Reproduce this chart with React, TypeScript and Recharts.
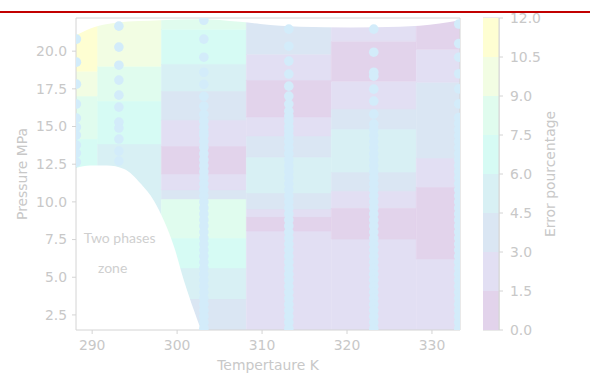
import React from 'react'
import {
    Area,
    Bar,
    BarChart,
    ComposedChart,
    Label,
    ReferenceArea,
    ReferenceDot,
    ReferenceLine,
    Scatter,
    XAxis,
    YAxis,
} from 'recharts'

// measured temperatures (K) and the cell edges between them
const temps = [288.15, 293.15, 303.15, 313.15, 323.15, 333.15]
const tempEdges = [288.1, 290.65, 298.15, 308.15, 318.15, 328.15, 333.3]

const xTicks = [290, 300, 310, 320, 330]
const yTicks = [2.5, 5, 7.5, 10, 12.5, 15, 17.5, 20]

// error bands of the colour scale (%)
const levels = [0, 1.5, 3, 4.5, 6, 7.5, 9, 10.5, 12]
const levelColors = ['#e2d3eb', '#e2dff3', '#dae6f3', '#d8f0f4', '#d6fbf4', '#e0fcee', '#f2fde3', '#fefed2']

// per column: pressure breaks (bottom to top) and the band of each cell
const cellBounds = [
    [1.5, 14.17, 17.02, 18.67, 22.2],
    [1.5, 13.84, 16.69, 19.0, 22.2],
    [1.5, 3.56, 5.62, 7.6, 10.19, 10.79, 11.85, 13.7, 15.43, 17.35, 19.14, 21.46, 22.2],
    [1.5, 8.07, 9.0, 9.53, 10.59, 12.97, 14.37, 15.63, 18.08, 19.8, 22.2],
    [1.5, 7.54, 9.59, 10.72, 11.98, 14.83, 16.16, 18.01, 20.66, 22.2],
    [1.5, 6.21, 10.98, 12.91, 17.94, 20.13, 22.2],
]
const cellLevels = [
    [4, 5, 6, 7],
    [3, 4, 5, 6],
    [2, 3, 4, 5, 2, 1, 0, 1, 2, 3, 4, 5],
    [1, 0, 1, 2, 3, 2, 1, 0, 1, 2],
    [1, 0, 1, 2, 3, 2, 1, 0, 1],
    [1, 0, 1, 2, 1, 0],
]

// experimental points (MPa)
const densePressures = [
    14.4, 14.0, 13.6, 13.2, 12.8, 12.4, 12.0, 11.6, 11.2, 10.8, 10.4, 10.0, 9.6, 9.2, 8.8, 8.4,
    8.0, 7.6, 7.2, 6.8, 6.4, 6.0, 5.6, 5.2, 4.8, 4.4, 4.0, 3.6, 3.2, 2.8, 2.4, 2.0, 1.6,
]
const dotPressures = [
    [20.8, 19.27, 17.81, 16.49, 15.56, 14.96, 14.43, 13.77, 13.24, 12.64],
    [21.66, 20.27, 19.07, 18.08, 17.08, 16.29, 15.29, 14.9, 14.17, 13.37, 12.71],
    [22.05, 20.8, 19.6, 18.6, 17.8, 17.0, 16.35, 15.8, 15.35, 14.96, 14.63, ...densePressures],
    [21.46, 20.33, 19.34, 18.48, 17.68, 17.02, 16.49, 16.02, 15.69, 15.36, 15.0, 14.7, ...densePressures],
    [21.46, 19.93, 18.6, 18.34, 17.48, 16.69, 15.82, 15.16, 14.8, ...densePressures],
    [21.8, 20.5, 19.6, 18.5, 17.5, 16.5, 15.6, 15.2, 14.8, ...densePressures],
]

// two phases zone outline
const twoPhaseT = [288.1, 289.76, 291.76, 293.76, 295.76, 297.29, 298.47, 299.65, 300.82, 302.0, 302.82]
const twoPhaseP = [12.24, 12.41, 12.41, 12.18, 11.18, 10.06, 8.73, 7.01, 4.75, 2.77, 1.5]

// upper limit of the interpolated map
const topT = [288.1, 289.8, 291.8, 293.0, 298.0, 302.7, 307.4, 309.8, 314.5, 320.4, 326.2, 330.9, 333.3]
const topP = [21.05, 21.5, 21.8, 21.9, 22.05, 22.12, 21.95, 21.8, 21.62, 21.57, 21.62, 21.84, 22.05]

const axisColor = '#d4d4d4'
const textColor = '#c8c8c8'
const dotColor = '#d3ecfa'
const font = 'DejaVu Sans'
const fontSize = 13.9

const twoPhaseData = twoPhaseT.map((t, i) => ({ t, p: twoPhaseP[i] }))
const topData = topT.map((t, i) => ({ t, p: topP[i] }))

const colorbarRow: Record<string, number | string> = { name: 'cb' }
levelColors.forEach((_, i) => {
    colorbarRow[`b${i}`] = levels[i + 1] - levels[i]
})

function XLabel({ viewBox }: any) {
    const x = (viewBox?.x ?? 76) + (viewBox?.width ?? 384) / 2
    const y = (viewBox?.y ?? 330) + 40
    return (
        <text x={x} y={y} textAnchor="middle" fill={textColor} fontSize={fontSize} fontFamily={font}>
            Tempertaure K
        </text>
    )
}

function YLabel({ viewBox }: any) {
    const x = (viewBox?.x ?? 0) + 27
    const y = (viewBox?.y ?? 18) + (viewBox?.height ?? 312) / 2
    return (
        <text x={x} y={y} transform={`rotate(-90, ${x}, ${y})`} textAnchor="middle" fill={textColor} fontSize={fontSize} fontFamily={font}>
            Pressure MPa
        </text>
    )
}

function ColorbarLabel({ viewBox }: any) {
    const x = (viewBox?.x ?? 16) + 56
    const y = (viewBox?.y ?? 18) + (viewBox?.height ?? 312) / 2
    return (
        <text x={x} y={y} transform={`rotate(-90, ${x}, ${y})`} textAnchor="middle" fill={textColor} fontSize={fontSize} fontFamily={font}>
            Error pourcentage
        </text>
    )
}

const fmt = (v: number) => v.toFixed(1)

export default function App() {
    return (
        <div style={{ position: 'relative', width: 590, height: 376, background: '#fff', overflow: 'hidden' }}>
            <style>{'body{margin:0}'}</style>
            <div style={{ position: 'absolute', left: 0, top: 11, width: 590, height: 2, background: '#c20000' }} />
            <div style={{ position: 'absolute', left: 0, top: 0 }}>
                <ComposedChart width={470} height={376} margin={{ top: 18, right: 10, bottom: 6, left: 0 }}>
                    {cellBounds.map((bounds, i) =>
                        cellLevels[i].map((lvl, j) => (
                            <ReferenceArea
                                key={`c${i}-${j}`}
                                x1={tempEdges[i]}
                                x2={tempEdges[i + 1]}
                                y1={bounds[j]}
                                y2={bounds[j + 1]}
                                fill={levelColors[lvl]}
                                fillOpacity={1}
                                stroke={levelColors[lvl]}
                                strokeWidth={0.5}
                                ifOverflow="hidden"
                            />
                        )),
                    )}
                    <Area
                        data={topData}
                        dataKey="p"
                        type="monotone"
                        baseValue="dataMax"
                        fill="#ffffff"
                        fillOpacity={1}
                        stroke="none"
                        isAnimationActive={false}
                    />
                    <Area
                        data={twoPhaseData}
                        dataKey="p"
                        type="monotone"
                        baseValue="dataMin"
                        fill="#ffffff"
                        fillOpacity={1}
                        stroke="none"
                        isAnimationActive={false}
                    />
                    {dotPressures.map((ps, i) => (
                        <Scatter
                            key={`s${i}`}
                            data={ps.map((p) => ({ t: temps[i], p }))}
                            dataKey="p"
                            fill={dotColor}
                            isAnimationActive={false}
                            shape={(props: any) => <circle cx={props.cx} cy={props.cy} r={4.8} fill={dotColor} />}
                        />
                    ))}
                    <ReferenceDot
                        x={293.24}
                        y={7.27}
                        r={0}
                        shape={(props: any) => (
                            <text x={props.cx} y={props.cy} textAnchor="middle" fill="#cfcfcf" fontSize={14} fontFamily="Lato">
                                Two phases
                            </text>
                        )}
                    />
                    <ReferenceDot
                        x={292.41}
                        y={5.28}
                        r={0}
                        shape={(props: any) => (
                            <text x={props.cx} y={props.cy} textAnchor="middle" fill="#cfcfcf" fontSize={14} fontFamily="Lato">
                                zone
                            </text>
                        )}
                    />
                    <XAxis
                        dataKey="t"
                        type="number"
                        domain={[288.1, 333.3]}
                        ticks={xTicks}
                        allowDataOverflow
                        height={40}
                        tickSize={4}
                        tickMargin={6}
                        stroke={axisColor}
                        tick={{ fill: textColor, fontSize, fontFamily: font }}
                    >
                        <Label content={<XLabel />} />
                    </XAxis>
                    <YAxis
                        dataKey="p"
                        type="number"
                        domain={[1.5, 22.2]}
                        ticks={yTicks}
                        tickFormatter={fmt}
                        allowDataOverflow
                        width={76}
                        tickSize={4}
                        tickMargin={5}
                        stroke={axisColor}
                        tick={{ fill: textColor, fontSize, fontFamily: font }}
                    >
                        <Label content={<YLabel />} />
                    </YAxis>
                    <ReferenceLine y={22.2} stroke={axisColor} />
                    <ReferenceLine x={333.3} stroke={axisColor} />
                </ComposedChart>
            </div>
            <div style={{ position: 'absolute', left: 483, top: 0 }}>
                <BarChart
                    width={96}
                    height={376}
                    data={[colorbarRow]}
                    margin={{ top: 18, right: 0, bottom: 46, left: 0 }}
                    barCategoryGap={0}
                >
                    <XAxis dataKey="name" hide />
                    <YAxis
                        orientation="right"
                        type="number"
                        domain={[0, 12]}
                        ticks={levels}
                        tickFormatter={fmt}
                        width={80}
                        tickSize={4}
                        tickMargin={7}
                        stroke={axisColor}
                        tick={{ fill: textColor, fontSize, fontFamily: font }}
                    >
                        <Label content={<ColorbarLabel />} />
                    </YAxis>
                    {levelColors.map((c, i) => (
                        <Bar key={`b${i}`} dataKey={`b${i}`} stackId="cb" fill={c} isAnimationActive={false} />
                    ))}
                    <ReferenceArea y1={0} y2={12} fill="none" stroke={axisColor} />
                </BarChart>
            </div>
        </div>
    )
}
